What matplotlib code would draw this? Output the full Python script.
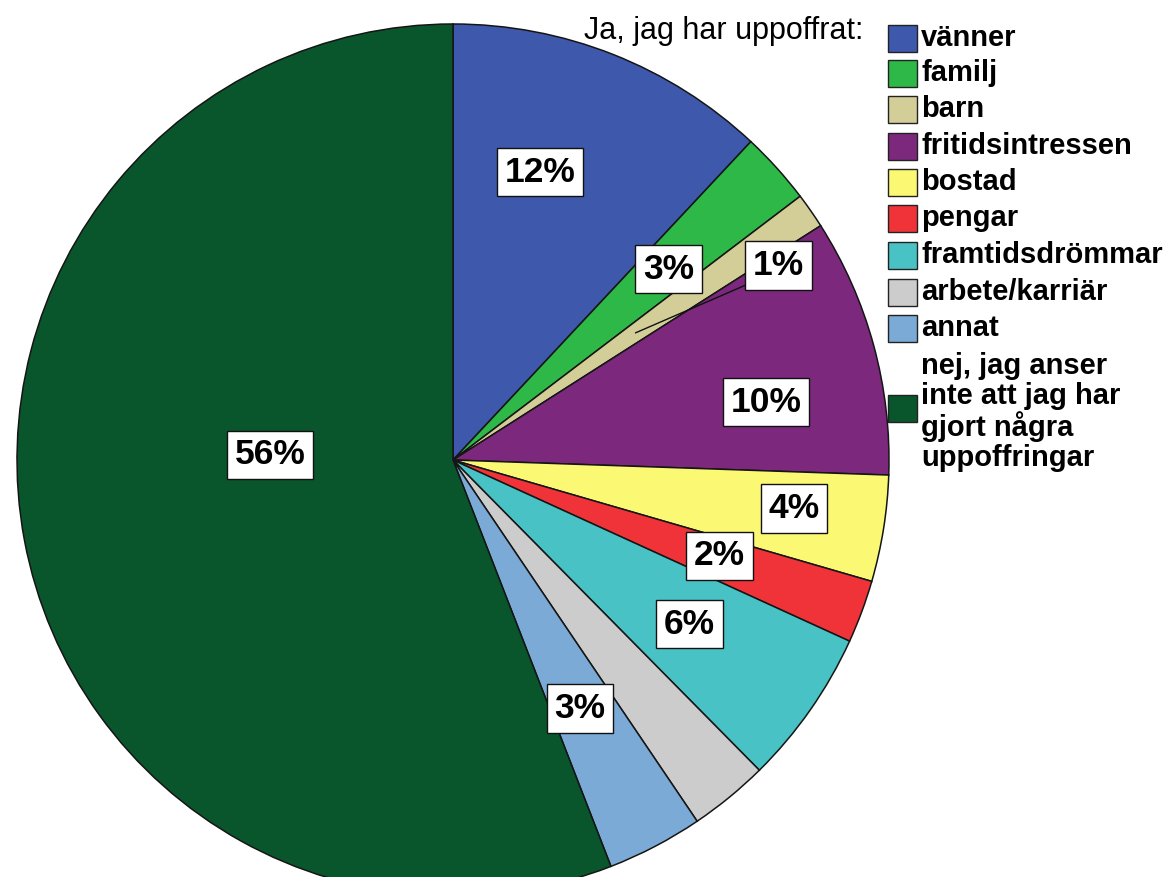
import numpy as np
import matplotlib
matplotlib.use("Agg")
import matplotlib.pyplot as plt
from matplotlib.patches import Rectangle

plt.rcParams['font.family'] = ['Liberation Sans', 'DejaVu Sans']

# data
categories = ['vänner', 'familj', 'barn', 'fritidsintressen', 'bostad', 'pengar',
              'framtidsdrömmar', 'arbete/karriär', 'annat',
              'nej, jag anser\ninte att jag har\ngjort några\nuppoffringar']
values = [11.97, 2.69, 1.31, 9.58, 3.94, 2.33, 5.78, 2.94, 3.56, 55.9]
pct_labels = ['12%', '3%', '1%', '10%', '4%', '2%', '6%', '', '3%', '56%']
legend_title = 'Ja, jag har uppoffrat:'

colors = ['#3E58AC', '#2EB848', '#D3CE97', '#7C287D', '#FBF873', '#EF3338',
          '#48C2C5', '#CCCCCC', '#7AAAD5', '#0A562C']

# label placement (angle offset in deg, fraction of radius)
lab_off = [-4.7, 0.5, 4.0, 4.8, -1.0, -0.6, -0.2, 0, 0.6, 12.2]
lab_rad = [0.69, 0.66, 0.87, 0.73, 0.79, 0.65, 0.66, 0.6, 0.64, 0.42]

W, H = 1172, 877
fig = plt.figure(figsize=(W / 100, H / 100), dpi=100)
ax = fig.add_axes([0, 0, 1, 1])

cx, cy, r = 453, H - 460, 436
wedges, _ = ax.pie(values, colors=colors, startangle=90, counterclock=False,
                   center=(cx, cy), radius=r, frame=True,
                   wedgeprops=dict(edgecolor='#151515', linewidth=1.1))
ax.set_xlim(0, W)
ax.set_ylim(0, H)
ax.set_aspect('equal')
ax.axis('off')

box = dict(boxstyle='square,pad=0.22', facecolor='white', edgecolor='#111111', linewidth=1.0)
for i, w in enumerate(wedges):
    if not pct_labels[i]:
        continue
    mid = np.deg2rad((w.theta1 + w.theta2) / 2)
    ang = mid - np.deg2rad(lab_off[i])
    tx = cx + lab_rad[i] * r * np.cos(ang)
    ty = cy + lab_rad[i] * r * np.sin(ang)
    if i == 2:
        # small slice: label moved out with a leader line
        ax.annotate(pct_labels[i], xy=(cx + 0.51 * r * np.cos(mid), cy + 0.51 * r * np.sin(mid)),
                    xytext=(tx, ty), ha='center', va='center', fontsize=25.5, fontweight='bold',
                    bbox=box, arrowprops=dict(arrowstyle='-', color='#111111', lw=1.0,
                                              relpos=(0, 0), shrinkA=0, shrinkB=0))
    else:
        ax.text(tx, ty, pct_labels[i], ha='center', va='center', fontsize=25.5,
                fontweight='bold', bbox=box)

# legend drawn by hand
rows = [38, 73, 109, 146, 182, 218, 255, 292, 328, 408]
for lab, col, yy in zip(categories, colors, rows):
    ax.add_patch(Rectangle((888, H - yy - 13.5), 29, 27, facecolor=col,
                           edgecolor='#222222', linewidth=1.0))
    ty = yy + 4 if '\n' in lab else yy
    ax.text(921, H - ty, lab, ha='left', va='center', fontsize=21,
            fontweight='bold', linespacing=1.07)
ax.text(863, H - 39, legend_title, ha='right', va='baseline', fontsize=22)

fig.savefig('out.png', dpi=100)
